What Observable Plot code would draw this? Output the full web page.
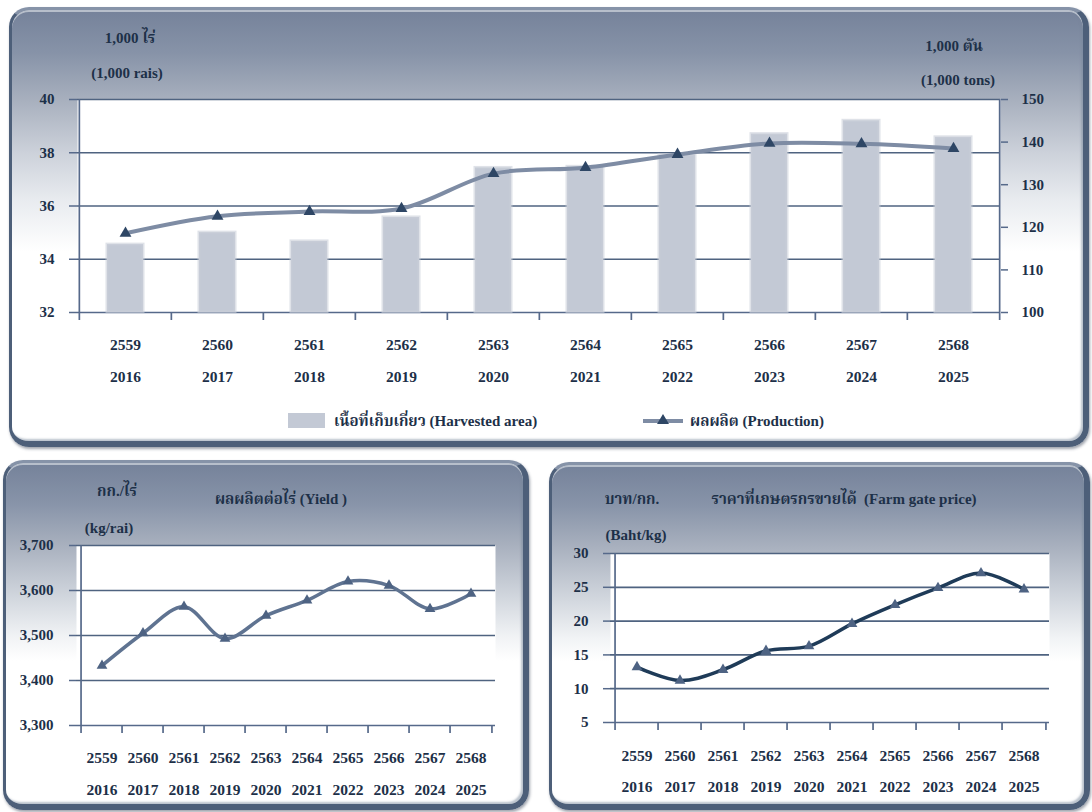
<!DOCTYPE html>
<html><head><meta charset="utf-8">
<script src="https://cdn.jsdelivr.net/npm/d3@7"></script>
<script src="https://cdn.jsdelivr.net/npm/@observablehq/plot@0.6"></script>
<style>
body{margin:0;width:1092px;height:812px;position:relative;background:#fff;overflow:hidden;
 font-family:"Liberation Serif","Times New Roman","Noto Serif Thai","Noto Sans Thai",serif;font-weight:bold;color:#1d3048;}
.frame{position:absolute;box-sizing:border-box;border:3px solid #4d5f79;border-top-color:#8693a8;border-right-width:6px;border-bottom-width:6px;border-radius:20px;
 box-shadow:1px 2px 3px rgba(40,50,70,.45), inset 0 2px 0 rgba(200,206,215,.8), inset -2px -2px 2px rgba(120,135,155,.5);}
#f1{left:9px;top:7px;width:1080px;height:440px;background:linear-gradient(to bottom,#75829a 0%,#8793a8 10%,#a8b0be 21%,#ccd1da 33%,#e8ebef 44%,#fff 56%);}
#f2{left:3px;top:460px;width:526px;height:350px;background:linear-gradient(to bottom,#75829a 0%,#8894a9 12%,#a8b0be 24%,#d3d8df 40%,#f1f3f5 51%,#fff 58%);}
#f3{left:549px;top:462px;width:541px;height:348px;background:linear-gradient(to bottom,#75829a 0%,#8894a9 12%,#a8b0be 24%,#d3d8df 40%,#f1f3f5 51%,#fff 58%);}
.chart{position:absolute;}
.lbl{position:absolute;transform:translate(-50%,-50%);white-space:nowrap;font-size:15px;line-height:1;}
.sw{position:absolute;}
</style></head>
<body>
<div class="frame" id="f1"></div>
<div class="frame" id="f2"></div>
<div class="frame" id="f3"></div>
<div id="c1" class="chart" style="left:0;top:0"></div>
<div id="c2" class="chart" style="left:0;top:455px"></div>
<div id="c3" class="chart" style="left:546px;top:455px"></div>

<div class="lbl" style="left:130px;top:38px">1,000 ไร่</div>
<div class="lbl" style="left:127px;top:73px">(1,000 rais)</div>
<div class="lbl" style="left:954px;top:46px">1,000 ตัน</div>
<div class="lbl" style="left:958px;top:80px">(1,000 tons)</div>

<div class="sw" style="left:288px;top:413px;width:37px;height:15px;background:#c3c9d5"></div>
<div class="lbl" style="left:334px;top:421px;transform:translate(0,-50%)">เนื้อที่เก็บเกี่ยว (Harvested area)</div>
<div class="sw" style="left:643px;top:419px;width:40px;height:4px;background:#7e8ca4"></div>
<svg class="sw" style="left:656px;top:413px" width="14" height="12"><path d="M7,1 L13,11 L1,11 Z" fill="#2e4665"/></svg>
<div class="lbl" style="left:690px;top:421px;transform:translate(0,-50%)">ผลผลิต (Production)</div>

<div class="lbl" style="left:117px;top:491px">กก./ไร่</div>
<div class="lbl" style="left:109px;top:528px">(kg/rai)</div>
<div class="lbl" style="left:281px;top:499px">ผลผลิตต่อไร่ (Yield )</div>

<div class="lbl" style="left:632px;top:499px">บาท/กก.</div>
<div class="lbl" style="left:636px;top:535px">(Baht/kg)</div>
<div class="lbl" style="left:844px;top:499px">ราคาที่เกษตรกรขายได้&nbsp;&nbsp;(Farm gate price)</div>

<script>
// ---------- data ----------
const beYears = ["2559","2560","2561","2562","2563","2564","2565","2566","2567","2568"];
const ceYears = ["2016","2017","2018","2019","2020","2021","2022","2023","2024","2025"];
const harvestedArea = [34.55, 35.0, 34.67, 35.57, 37.43, 37.47, 37.91, 38.7, 39.2, 38.58]; // 1,000 rai
const production = [118.6, 122.6, 123.7, 124.4, 132.6, 134.0, 137.1, 139.7, 139.6, 138.5]; // 1,000 tons
const yieldKgRai = [3433, 3505, 3564, 3493, 3544, 3578, 3620, 3611, 3559, 3593];
const farmPrice = [13.2, 11.2, 12.8, 15.6, 16.3, 19.6, 22.4, 24.9, 27.1, 24.7];
const areaTicks = [32, 34, 36, 38, 40];
const prodTicks = [100, 110, 120, 130, 140, 150];
const yieldTicks = [3300, 3400, 3500, 3600, 3700];
const priceTicks = [5, 10, 15, 20, 25, 30];

const TXT = "#1d3048", GRID = "#4f6380", AXIS = "#56698a";
const FONT = '"Liberation Serif","Times New Roman","Noto Serif Thai",serif';
const n = ceYears.length;

function baseMarks(step, plotH, yMin, gridVals, yTicks, yFmt, tickSize, tickPad, dy1, dy2, rows) {
  return [
    Plot.frame({fill: "white", stroke: null}),
    Plot.ruleY(gridVals, {stroke: GRID, strokeWidth: 1.7}),
    Plot.ruleY([yMin], {stroke: AXIS, strokeWidth: 1.7}),
    Plot.tickX([ceYears[0]], {dx: -step / 2, stroke: AXIS, strokeWidth: 1.7}),
    Plot.tickX(ceYears, {dx: -step / 2, insetTop: plotH, insetBottom: -8, stroke: AXIS, strokeWidth: 1.7}),
    Plot.tickX([ceYears[n - 1]], {dx: step / 2, insetTop: plotH, insetBottom: -8, stroke: AXIS, strokeWidth: 1.7}),
    Plot.axisY(yTicks, {anchor: "left", tickSize, tickPadding: tickPad, tickFormat: yFmt, label: null,
      stroke: AXIS, strokeWidth: 1.5, fill: TXT, fontSize: 15, fontWeight: "bold", fontFamily: FONT}),
    Plot.text(rows, {x: "ce", text: "be", frameAnchor: "bottom", dy: dy1, lineAnchor: "middle",
      fill: TXT, fontSize: 15.5, fontWeight: "bold", fontFamily: FONT}),
    Plot.text(rows, {x: "ce", text: "ce", frameAnchor: "bottom", dy: dy2, lineAnchor: "middle",
      fill: TXT, fontSize: 15.5, fontWeight: "bold", fontFamily: FONT})
  ];
}

// ---------- top chart: harvested area (bars) + production (line, right axis) ----------
{
  const W = 1092, H = 400, ML = 77, MR = 92, MT = 99, MB = 88;
  const step = (W - ML - MR) / n, plotH = H - MT - MB;
  const toLeft = p => 32 + (p - 100) * (8 / 50);
  const fromLeft = v => Math.round(100 + (v - 32) * (50 / 8));
  const rows = ceYears.map((ce, i) => ({ce, be: beYears[i], area: harvestedArea[i], prod: production[i]}));
  const marks = baseMarks(step, plotH, 32, [34, 36, 38, 40], areaTicks, d => d, 8, 15, 33, 65, rows);
  marks.splice(3, 0,
    Plot.barY(rows, {x: "ce", y1: 32, y2: "area", fill: "#c3c9d5", stroke: "#c9ced8", strokeOpacity: 0.6, strokeWidth: 3,
      insetLeft: 28, insetRight: 28}),
    Plot.lineY(rows, {x: "ce", y: d => toLeft(d.prod), curve: "catmull-rom", stroke: "#7e8ca4", strokeWidth: 4}),
    Plot.dot(rows, {x: "ce", y: d => toLeft(d.prod), symbol: "triangle", r: 4.4, fill: "#2e4665", stroke: null})
  );
  marks.push(
    Plot.tickX([ceYears[n - 1]], {dx: step / 2, stroke: AXIS, strokeWidth: 1.7}),
    Plot.axisY(prodTicks.map(toLeft), {anchor: "right", tickSize: 7, tickPadding: 14, tickFormat: fromLeft, label: null,
      stroke: AXIS, strokeWidth: 1.5, fill: TXT, fontSize: 15, fontWeight: "bold", fontFamily: FONT})
  );
  const p = Plot.plot({
    width: W, height: H, marginLeft: ML, marginRight: MR, marginTop: MT, marginBottom: MB,
    style: {background: "transparent", overflow: "visible"},
    x: {type: "band", domain: ceYears, padding: 0, axis: null},
    y: {domain: [32, 40], axis: null},
    marks
  });
  document.getElementById("c1").append(p);
}

// ---------- bottom-left: yield ----------
{
  const W = 530, H = 345, ML = 76, MR = 35, MT = 90, MB = 75;
  const step = (W - ML - MR) / n, plotH = H - MT - MB;
  const rows = ceYears.map((ce, i) => ({ce, be: beYears[i], v: yieldKgRai[i]}));
  const marks = baseMarks(step, plotH, 3300, [3400, 3500, 3600, 3700], yieldTicks, d3.format(","), 7, 16, 33, 65, rows);
  marks.splice(3, 0,
    Plot.lineY(rows, {x: "ce", y: "v", curve: "catmull-rom", stroke: "#5f7391", strokeWidth: 3.5}),
    Plot.dot(rows, {x: "ce", y: "v", symbol: "triangle", r: 4, fill: "#4e6383", stroke: null})
  );
  const p = Plot.plot({
    width: W, height: H, marginLeft: ML, marginRight: MR, marginTop: MT, marginBottom: MB,
    style: {background: "transparent", overflow: "visible"},
    x: {type: "band", domain: ceYears, padding: 0, axis: null},
    y: {domain: [3300, 3700], axis: null},
    marks
  });
  document.getElementById("c2").append(p);
}

// ---------- bottom-right: farm gate price ----------
{
  const W = 546, H = 345, ML = 64, MR = 43, MT = 98, MB = 78;
  const step = (W - ML - MR) / n, plotH = H - MT - MB;
  const rows = ceYears.map((ce, i) => ({ce, be: beYears[i], v: farmPrice[i]}));
  const marks = baseMarks(step, plotH, 5, [10, 15, 20, 25, 30], priceTicks, d => d, 7, 15, 34, 65, rows);
  marks.splice(3, 0,
    Plot.lineY(rows, {x: "ce", y: "v", curve: "catmull-rom", stroke: "#1f3b58", strokeWidth: 3.5}),
    Plot.dot(rows, {x: "ce", y: "v", symbol: "triangle", r: 4, fill: "#4e6383", stroke: null})
  );
  const p = Plot.plot({
    width: W, height: H, marginLeft: ML, marginRight: MR, marginTop: MT, marginBottom: MB,
    style: {background: "transparent", overflow: "visible"},
    x: {type: "band", domain: ceYears, padding: 0, axis: null},
    y: {domain: [5, 30], axis: null},
    marks
  });
  document.getElementById("c3").append(p);
}
</script>
</body></html>
